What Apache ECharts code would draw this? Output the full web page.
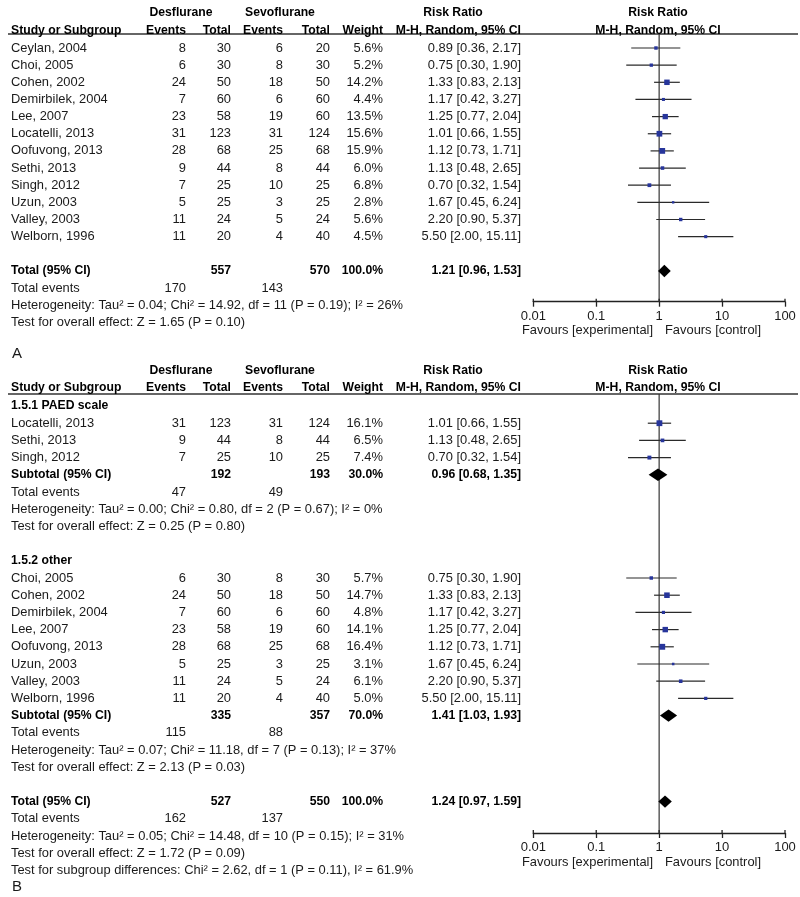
<!DOCTYPE html>
<html><head><meta charset="utf-8">
<script src="https://cdn.jsdelivr.net/npm/echarts@6/dist/echarts.min.js"></script>
<style>html,body{margin:0;padding:0;background:#fff}#c{width:800px;height:897px}</style>
</head><body><div id="c"></div>
<script>
// ---------------- DATA: Panel A ----------------
const studiesA   = ['Ceylan, 2004','Choi, 2005','Cohen, 2002','Demirbilek, 2004','Lee, 2007','Locatelli, 2013','Oofuvong, 2013','Sethi, 2013','Singh, 2012','Uzun, 2003','Valley, 2003','Welborn, 1996'];
const desEventsA = [8, 6, 24, 7, 23, 31, 28, 9, 7, 5, 11, 11];
const desTotalA  = [30, 30, 50, 60, 58, 123, 68, 44, 25, 25, 24, 20];
const sevEventsA = [6, 8, 18, 6, 19, 31, 25, 8, 10, 3, 5, 4];
const sevTotalA  = [20, 30, 50, 60, 60, 124, 68, 44, 25, 25, 24, 40];
const weightA    = [5.6, 5.2, 14.2, 4.4, 13.5, 15.6, 15.9, 6.0, 6.8, 2.8, 5.6, 4.5];
const rrA        = [0.89, 0.75, 1.33, 1.17, 1.25, 1.01, 1.12, 1.13, 0.70, 1.67, 2.20, 5.50];
const loA        = [0.36, 0.30, 0.83, 0.42, 0.77, 0.66, 0.73, 0.48, 0.32, 0.45, 0.90, 2.00];
const hiA        = [2.17, 1.90, 2.13, 3.27, 2.04, 1.55, 1.71, 2.65, 1.54, 6.24, 5.37, 15.11];
const totalA     = {desTotal: 557, sevTotal: 570, weight: 100.0, rr: 1.21, lo: 0.96, hi: 1.53, desEvents: 170, sevEvents: 143};
const notesA     = ['Heterogeneity: Tau² = 0.04; Chi² = 14.92, df = 11 (P = 0.19); I² = 26%', 'Test for overall effect: Z = 1.65 (P = 0.10)'];

// ---------------- DATA: Panel B, subgroup 1.5.1 ----------------
const sg1Title     = '1.5.1 PAED scale';
const sg1Studies   = ['Locatelli, 2013','Sethi, 2013','Singh, 2012'];
const sg1DesEvents = [31, 9, 7];
const sg1DesTotal  = [123, 44, 25];
const sg1SevEvents = [31, 8, 10];
const sg1SevTotal  = [124, 44, 25];
const sg1Weight    = [16.1, 6.5, 7.4];
const sg1RR        = [1.01, 1.13, 0.70];
const sg1Lo        = [0.66, 0.48, 0.32];
const sg1Hi        = [1.55, 2.65, 1.54];
const sg1Sub       = {desTotal: 192, sevTotal: 193, weight: 30.0, rr: 0.96, lo: 0.68, hi: 1.35, desEvents: 47, sevEvents: 49};
const sg1Notes     = ['Heterogeneity: Tau² = 0.00; Chi² = 0.80, df = 2 (P = 0.67); I² = 0%', 'Test for overall effect: Z = 0.25 (P = 0.80)'];

// ---------------- DATA: Panel B, subgroup 1.5.2 ----------------
const sg2Title     = '1.5.2 other';
const sg2Studies   = ['Choi, 2005','Cohen, 2002','Demirbilek, 2004','Lee, 2007','Oofuvong, 2013','Uzun, 2003','Valley, 2003','Welborn, 1996'];
const sg2DesEvents = [6, 24, 7, 23, 28, 5, 11, 11];
const sg2DesTotal  = [30, 50, 60, 58, 68, 25, 24, 20];
const sg2SevEvents = [8, 18, 6, 19, 25, 3, 5, 4];
const sg2SevTotal  = [30, 50, 60, 60, 68, 25, 24, 40];
const sg2Weight    = [5.7, 14.7, 4.8, 14.1, 16.4, 3.1, 6.1, 5.0];
const sg2RR        = [0.75, 1.33, 1.17, 1.25, 1.12, 1.67, 2.20, 5.50];
const sg2Lo        = [0.30, 0.83, 0.42, 0.77, 0.73, 0.45, 0.90, 2.00];
const sg2Hi        = [1.90, 2.13, 3.27, 2.04, 1.71, 6.24, 5.37, 15.11];
const sg2Sub       = {desTotal: 335, sevTotal: 357, weight: 70.0, rr: 1.41, lo: 1.03, hi: 1.93, desEvents: 115, sevEvents: 88};
const sg2Notes     = ['Heterogeneity: Tau² = 0.07; Chi² = 11.18, df = 7 (P = 0.13); I² = 37%', 'Test for overall effect: Z = 2.13 (P = 0.03)'];

const totalB     = {desTotal: 527, sevTotal: 550, weight: 100.0, rr: 1.24, lo: 0.97, hi: 1.59, desEvents: 162, sevEvents: 137};
const notesB     = ['Heterogeneity: Tau² = 0.05; Chi² = 14.48, df = 10 (P = 0.15); I² = 31%', 'Test for overall effect: Z = 1.72 (P = 0.09)', 'Test for subgroup differences: Chi² = 2.62, df = 1 (P = 0.11), I² = 61.9%'];

// axis tick labels
const tickValues = [0.01, 0.1, 1, 10, 100];
const tickLabels = ['0.01', '0.1', '1', '10', '100'];
const favLeft = 'Favours [experimental]';
const favRight = 'Favours [control]';

// ---------------- LAYOUT ----------------
const FONT = '"Liberation Sans", Arial, Helvetica, sans-serif';
const TXT = '#1a1a1a';
const FS = 12.9, FSB = 12.2;
const COL = {study: 11, evD: 186, totD: 231, evS: 283, totS: 330, wt: 383, rr: 521, hdrD: 181, hdrS: 280, hdrRR: 453, plot: 658, favL: 653, favR: 665};
const PLOT_LEFT = 533.3, PLOT_W = 251.7;
const A = {y0: 48, step: 17.15, top: 0, h: 360, line: 34, axis: 301.7, hdr1: 13, hdr2: 31, fav: 330, label: 354};
const B = {y0: 406, step: 17.2, top: 360, h: 537, line: 394, axis: 833, hdr1: 371, hdr2: 388, fav: 862, label: 887};
const rowOf = (P, px) => (px - P.y0) / P.step;

const f2 = v => v.toFixed(2);
const ci = (rr, lo, hi) => f2(rr) + ' [' + f2(lo) + ', ' + f2(hi) + ']';
const pct = w => w.toFixed(1) + '%';

function headerItems(items, P) {
  const r1 = rowOf(P, P.hdr1), r2 = rowOf(P, P.hdr2);
  items.push({x: COL.hdrD, r: r1, t: 'Desflurane', a: 'center', b: 1});
  items.push({x: COL.hdrS, r: r1, t: 'Sevoflurane', a: 'center', b: 1});
  items.push({x: COL.hdrRR, r: r1, t: 'Risk Ratio', a: 'center', b: 1});
  items.push({x: COL.plot, r: r1, t: 'Risk Ratio', a: 'center', b: 1});
  items.push({x: COL.study, r: r2, t: 'Study or Subgroup', a: 'left', b: 1});
  items.push({x: COL.evD, r: r2, t: 'Events', a: 'right', b: 1});
  items.push({x: COL.totD, r: r2, t: 'Total', a: 'right', b: 1});
  items.push({x: COL.evS, r: r2, t: 'Events', a: 'right', b: 1});
  items.push({x: COL.totS, r: r2, t: 'Total', a: 'right', b: 1});
  items.push({x: COL.wt, r: r2, t: 'Weight', a: 'right', b: 1});
  items.push({x: COL.rr, r: r2, t: 'M-H, Random, 95% CI', a: 'right', b: 1});
  items.push({x: COL.plot, r: r2, t: 'M-H, Random, 95% CI', a: 'center', b: 1});
}
function studyRow(items, r, name, eD, tD, eS, tS, w, rr, lo, hi) {
  items.push({x: COL.study, r, t: name, a: 'left'});
  items.push({x: COL.evD, r, t: String(eD), a: 'right'});
  items.push({x: COL.totD, r, t: String(tD), a: 'right'});
  items.push({x: COL.evS, r, t: String(eS), a: 'right'});
  items.push({x: COL.totS, r, t: String(tS), a: 'right'});
  items.push({x: COL.wt, r, t: pct(w), a: 'right'});
  items.push({x: COL.rr, r, t: ci(rr, lo, hi), a: 'right'});
}
function totalRows(items, r, label, T) {
  items.push({x: COL.study, r, t: label, a: 'left', b: 1});
  items.push({x: COL.totD, r, t: String(T.desTotal), a: 'right', b: 1});
  items.push({x: COL.totS, r, t: String(T.sevTotal), a: 'right', b: 1});
  items.push({x: COL.wt, r, t: pct(T.weight), a: 'right', b: 1});
  items.push({x: COL.rr, r, t: ci(T.rr, T.lo, T.hi), a: 'right', b: 1});
  items.push({x: COL.study, r: r + 1, t: 'Total events', a: 'left'});
  items.push({x: COL.evD, r: r + 1, t: String(T.desEvents), a: 'right'});
  items.push({x: COL.evS, r: r + 1, t: String(T.sevEvents), a: 'right'});
}
function favItems(items, P) {
  const r = rowOf(P, P.fav);
  items.push({x: COL.favL, r, t: favLeft, a: 'right'});
  items.push({x: COL.favR, r, t: favRight, a: 'left'});
}

// ---- Panel A content ----
const textA = [], marksA = [], diaA = [];
headerItems(textA, A);
studiesA.forEach((s, i) => {
  studyRow(textA, i, s, desEventsA[i], desTotalA[i], sevEventsA[i], sevTotalA[i], weightA[i], rrA[i], loA[i], hiA[i]);
  marksA.push([rrA[i], loA[i], hiA[i], i, weightA[i]]);
});
let rA = studiesA.length + 1;
totalRows(textA, rA, 'Total (95% CI)', totalA);
diaA.push([totalA.rr, totalA.lo, totalA.hi, rA]);
notesA.forEach((n, k) => textA.push({x: COL.study, r: rA + 2 + k, t: n, a: 'left'}));
favItems(textA, A);
textA.push({x: 12, r: rowOf(A, A.label), t: 'A', a: 'left', s: 15});

// ---- Panel B content ----
const textB = [], marksB = [], diaB = [];
headerItems(textB, B);
let r = 0;
function subgroup(title, names, eD, tD, eS, tS, w, rr, lo, hi, sub, notes) {
  textB.push({x: COL.study, r, t: title, a: 'left', b: 1}); r++;
  names.forEach((s, i) => {
    studyRow(textB, r, s, eD[i], tD[i], eS[i], tS[i], w[i], rr[i], lo[i], hi[i]);
    marksB.push([rr[i], lo[i], hi[i], r, w[i]]);
    r++;
  });
  totalRows(textB, r, 'Subtotal (95% CI)', sub);
  diaB.push([sub.rr, sub.lo, sub.hi, r]);
  r += 2;
  notes.forEach(n => { textB.push({x: COL.study, r, t: n, a: 'left'}); r++; });
  r++;
}
subgroup(sg1Title, sg1Studies, sg1DesEvents, sg1DesTotal, sg1SevEvents, sg1SevTotal, sg1Weight, sg1RR, sg1Lo, sg1Hi, sg1Sub, sg1Notes);
subgroup(sg2Title, sg2Studies, sg2DesEvents, sg2DesTotal, sg2SevEvents, sg2SevTotal, sg2Weight, sg2RR, sg2Lo, sg2Hi, sg2Sub, sg2Notes);
totalRows(textB, r, 'Total (95% CI)', totalB);
diaB.push([totalB.rr, totalB.lo, totalB.hi, r]);
r += 2;
notesB.forEach(n => { textB.push({x: COL.study, r, t: n, a: 'left'}); r++; });
favItems(textB, B);
textB.push({x: 12, r: rowOf(B, B.label), t: 'B', a: 'left', s: 15});

// ---------------- SERIES BUILDERS ----------------
function textSeries(items, ai) {
  return {type: 'custom', xAxisIndex: ai, yAxisIndex: ai, silent: true, clip: false, z: 5,
    data: items.map((it, i) => [it.x, it.r, i]),
    renderItem: (params, api) => {
      const it = items[api.value(2)];
      const p = api.coord([api.value(0), api.value(1)]);
      return {type: 'text', x: p[0], y: p[1],
        style: {text: it.t, align: it.a, verticalAlign: 'middle', textAlign: it.a, textVerticalAlign: 'middle',
          fill: it.b ? '#000' : TXT, font: (it.b ? 'bold ' : '') + (it.s || (it.b ? FSB : FS)) + 'px ' + FONT}};
    }};
}
function hLineSeries(P, ai) {
  const rl = rowOf(P, P.line);
  return {type: 'custom', xAxisIndex: ai, yAxisIndex: ai, silent: true, clip: false, z: 4,
    data: [[8, rl, 798]],
    renderItem: (params, api) => {
      const a = api.coord([api.value(0), api.value(1)]), b = api.coord([api.value(2), api.value(1)]);
      return {type: 'line', shape: {x1: a[0], y1: a[1], x2: b[0], y2: b[1]}, style: {stroke: '#333', lineWidth: 1.3}};
    }};
}
function vLineSeries(P, ai) {
  return {type: 'custom', xAxisIndex: ai, yAxisIndex: ai, silent: true, clip: false, z: 2,
    data: [[1, rowOf(P, P.line), rowOf(P, P.axis)]],
    renderItem: (params, api) => {
      const a = api.coord([api.value(0), api.value(1)]), b = api.coord([api.value(0), api.value(2)]);
      return {type: 'line', shape: {x1: a[0], y1: a[1], x2: b[0], y2: b[1]}, style: {stroke: '#444', lineWidth: 1.3}};
    }};
}
function forestSeries(rows, ai) {
  return {type: 'custom', xAxisIndex: ai, yAxisIndex: ai, silent: true, clip: false, z: 3,
    encode: {x: [0, 1, 2], y: 3},
    data: rows,
    renderItem: (params, api) => {
      const rr = api.value(3);
      const a = api.coord([api.value(1), rr]), b = api.coord([api.value(2), rr]), c = api.coord([api.value(0), rr]);
      const s = 1.45 * Math.sqrt(api.value(4));
      return {type: 'group', children: [
        {type: 'line', shape: {x1: a[0], y1: a[1], x2: b[0], y2: b[1]}, style: {stroke: '#2a2a2a', lineWidth: 1.2}},
        {type: 'rect', shape: {x: c[0] - s / 2, y: c[1] - s / 2, width: s, height: s}, style: {fill: '#27359b'}}
      ]};
    }};
}
function diamondSeries(rows, ai) {
  return {type: 'custom', xAxisIndex: ai, yAxisIndex: ai, silent: true, clip: false, z: 3,
    encode: {x: [0, 1, 2], y: 3},
    data: rows,
    renderItem: (params, api) => {
      const rr = api.value(3);
      const a = api.coord([api.value(1), rr]), b = api.coord([api.value(2), rr]), c = api.coord([api.value(0), rr]);
      const h = 6.2;
      return {type: 'polygon', shape: {points: [[a[0], a[1]], [c[0], c[1] - h], [b[0], b[1]], [c[0], c[1] + h]]}, style: {fill: '#000'}};
    }};
}
// small upward tick stubs so ticks cross the axis line as in the reference
function tickUpSeries(P, ai) {
  return {type: 'custom', xAxisIndex: ai, yAxisIndex: ai, silent: true, clip: false, z: 3,
    data: tickValues.map(v => [v, rowOf(P, P.axis)]),
    renderItem: (params, api) => {
      const p = api.coord([api.value(0), api.value(1)]);
      return {type: 'line', shape: {x1: p[0], y1: p[1] - 3, x2: p[0], y2: p[1]}, style: {stroke: '#222', lineWidth: 1.3}};
    }};
}

// ---------------- AXES ----------------
function tableX(g) { return {type: 'value', gridIndex: g, min: 0, max: 800, show: false}; }
function tableY(g, P) { return {type: 'value', gridIndex: g, inverse: true, min: rowOf(P, P.top), max: rowOf(P, P.top + P.h), show: false}; }
function plotX(g) {
  return {type: 'log', logBase: 10, gridIndex: g, min: tickValues[0], max: tickValues[tickValues.length - 1],
    axisLine: {show: true, onZero: false, lineStyle: {color: '#222', width: 1.3}},
    axisTick: {show: true, length: 5, lineStyle: {color: '#222', width: 1.3}},
    axisLabel: {show: true, margin: 8, fontSize: 13, color: TXT, fontFamily: FONT,
      formatter: v => { const k = tickValues.findIndex(t => Math.abs(Math.log10(t) - Math.log10(v)) < 1e-6); return k >= 0 ? tickLabels[k] : ''; }},
    splitLine: {show: false}, minorTick: {show: false}};
}
function plotY(g, P) { return {type: 'value', gridIndex: g, inverse: true, min: rowOf(P, P.line), max: rowOf(P, P.axis), show: false}; }

const chart = echarts.init(document.getElementById('c'), null, {renderer: 'canvas'});
chart.setOption({
  animation: false,
  backgroundColor: '#fff',
  grid: [
    {left: 0, top: A.top, width: 800, height: A.h},
    {left: PLOT_LEFT, top: A.line, width: PLOT_W, height: A.axis - A.line},
    {left: 0, top: B.top, width: 800, height: B.h},
    {left: PLOT_LEFT, top: B.line, width: PLOT_W, height: B.axis - B.line}
  ],
  xAxis: [tableX(0), plotX(1), tableX(2), plotX(3)],
  yAxis: [tableY(0, A), plotY(1, A), tableY(2, B), plotY(3, B)],
  series: [
    textSeries(textA, 0), hLineSeries(A, 0),
    vLineSeries(A, 1), forestSeries(marksA, 1), diamondSeries(diaA, 1), tickUpSeries(A, 1),
    textSeries(textB, 2), hLineSeries(B, 2),
    vLineSeries(B, 3), forestSeries(marksB, 3), diamondSeries(diaB, 3), tickUpSeries(B, 3)
  ]
});
</script></body></html>
